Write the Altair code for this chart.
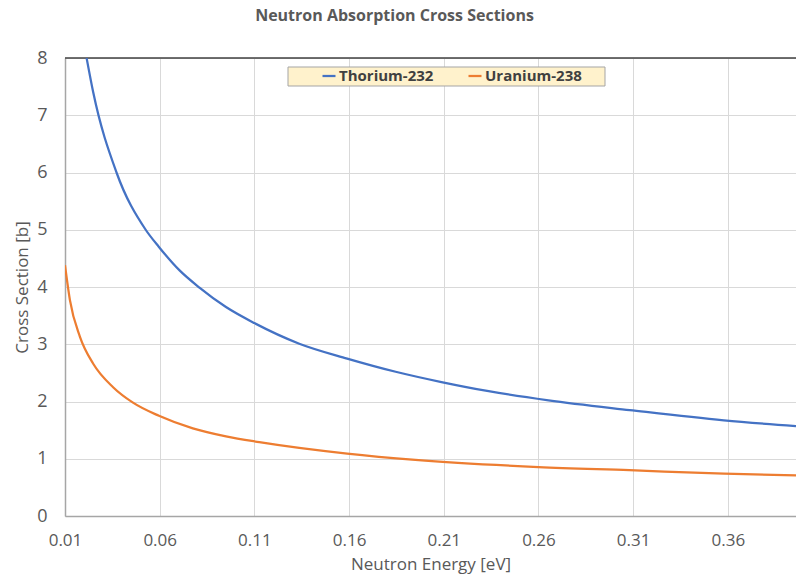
import altair as alt
import pandas as pd

# --- data ---
th_energy = [0.0214, 0.0249, 0.0372, 0.0526, 0.0596, 0.0705, 0.081, 0.095,
             0.11, 0.1337, 0.159, 0.1846, 0.2088, 0.2337, 0.2653, 0.3082, 0.3579, 0.396]
th_sigma = [8.0, 7.40, 6.0, 5.0, 4.70, 4.29, 3.99, 3.65,
            3.37, 3.01, 2.75, 2.52, 2.34, 2.18, 2.02, 1.85, 1.67, 1.57]

u_energy = [0.01, 0.0126, 0.0179, 0.0249, 0.0354, 0.0459, 0.0596, 0.0775, 0.095, 0.1126,
            0.159, 0.195, 0.26, 0.308, 0.358, 0.396]
u_sigma = [4.38, 3.77, 3.13, 2.66, 2.25, 1.98, 1.75, 1.53, 1.39, 1.29,
           1.09, 0.98, 0.855, 0.80, 0.74, 0.71]

series = ["Thorium-232", "Uranium-238"]
colors = ["#4472C4", "#ED7D31"]
x_ticks = [0.01, 0.06, 0.11, 0.16, 0.21, 0.26, 0.31, 0.36]
y_ticks = [0, 1, 2, 3, 4, 5, 6, 7, 8]

df = pd.concat([
    pd.DataFrame({"E": th_energy, "sigma": th_sigma, "series": series[0]}),
    pd.DataFrame({"E": u_energy, "sigma": u_sigma, "series": series[1]}),
])

FONT = "Open Sans"
GREY = "#595959"

x_scale = alt.Scale(domain=[0.01, 0.396], nice=False, zero=False)
y_scale = alt.Scale(domain=[0, 8], nice=False)

lines = alt.Chart(df).mark_line(strokeWidth=2.25, interpolate="monotone", clip=True).encode(
    x=alt.X("E:Q", scale=x_scale,
            axis=alt.Axis(values=x_ticks, format=".2f", title="Neutron Energy [eV]",
                          grid=True, gridColor="#D9D9D9", ticks=False, labelFlush=False,
                          domainColor="#A6A6A6", domainWidth=1.5,
                          labelFont=FONT, labelFontSize=17, labelColor=GREY, labelPadding=16,
                          titleFont=FONT, titleFontSize=17, titleFontWeight="normal",
                          titleColor=GREY, titlePadding=8)),
    y=alt.Y("sigma:Q", scale=y_scale,
            axis=alt.Axis(values=y_ticks, format="d", title="Cross Section [b]",
                          grid=True, gridColor="#D9D9D9", ticks=False, labelFlush=False,
                          domainColor="#A6A6A6", domainWidth=1.5,
                          labelFont=FONT, labelFontSize=18, labelColor=GREY, labelPadding=18,
                          titleFont=FONT, titleFontSize=17, titleFontWeight="normal",
                          titleColor=GREY, titleX=-43, titleBaseline="middle")),
    color=alt.Color("series:N", scale=alt.Scale(domain=series, range=colors),
                    legend=alt.Legend(title=None, orient="none", legendX=256, legendY=10,
                                      direction="horizontal", symbolType="stroke",
                                      symbolSize=169, symbolStrokeWidth=2.25,
                                      labelFont=FONT, labelFontSize=15, labelFontWeight="bold",
                                      labelColor="#404040", labelOffset=2, columnPadding=30,
                                      padding=0)),
)

legend_box = alt.Chart(pd.DataFrame({"a": [0]})).mark_rect(
    fill="#FFF2CC", stroke="#A5A5A5", strokeWidth=1
).encode(x=alt.value(223), x2=alt.value(540), y=alt.value(9), y2=alt.value(28))

top_rule = alt.Chart(pd.DataFrame({"a": [0]})).mark_rule(color="#404040", strokeWidth=1.5).encode(
    y=alt.datum(8, scale=y_scale)
)

chart = alt.layer(top_rule, legend_box, lines).properties(
    width=731, height=458,
    padding={"left": 65, "top": 58, "right": 0, "bottom": 63},
    autosize="none",
    title=alt.TitleParams("Neutron Absorption Cross Sections", font=FONT, fontSize=16,
                          fontWeight="bold", color=GREY, anchor="middle", dx=-36, offset=25),
).configure_view(stroke=None).configure(background="white")

chart.save("out.html", embed_options={"renderer": "svg", "actions": False})
